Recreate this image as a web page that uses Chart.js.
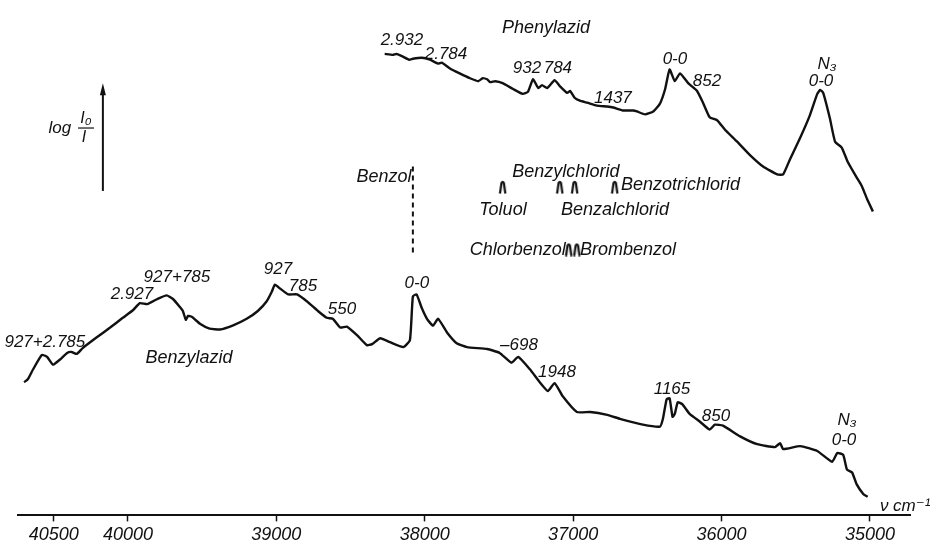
<!DOCTYPE html>
<html>
<head>
<meta charset="utf-8">
<script src="https://cdn.jsdelivr.net/npm/chart.js@4.4.1/dist/chart.umd.min.js"></script>
<style>
  html, body { margin: 0; padding: 0; background: #fff; }
  #wrap { width: 935px; height: 549px; }
</style>
</head>
<body>
<div id="wrap"><canvas id="spektrum" width="935" height="549"></canvas></div>
<script>
// wavenumber ticks (cm-1)
const wnTicks = [40500, 40000, 39000, 38000, 37000, 36000, 35000];

// Phenylazid, upper trace (wavenumber / log I0/I, arbitrary units)
const phenylWn = [
  38270, 38215, 38190, 38145, 38105, 38080, 38020, 37965, 37910, 37885,
  37830, 37765, 37695, 37640, 37610, 37580, 37560, 37525, 37475, 37405,
  37340, 37305, 37270, 37235, 37210, 37175, 37125, 37090, 37040, 37020,
  36990, 36955, 36905, 36840, 36770, 36730, 36665, 36595, 36570, 36515,
  36460, 36415, 36380, 36350, 36315, 36280, 36225, 36165, 36125, 36080,
  36030, 35975, 35895, 35810, 35720, 35625, 35585, 35540, 35470, 35405,
  35355, 35335, 35315, 35270, 35235, 35190, 35150, 35090, 35055, 35020, 34980
];
const phenylAbs = [
  94.6, 94.4, 94.6, 94.0, 93.4, 93.6, 93.8, 93.4, 92.6, 92.8,
  91.6, 90.6, 89.6, 89.0, 89.6, 89.4, 88.8, 89.0, 88.6, 87.4,
  86.4, 86.8, 89.4, 87.6, 88.2, 87.6, 89.2, 88.0, 86.6, 87.0,
  85.6, 85.0, 84.6, 84.0, 83.8, 83.6, 83.0, 83.0, 82.8, 82.2,
  82.8, 84.4, 87.4, 91.4, 89.0, 90.6, 88.6, 87.0, 84.6, 81.6,
  81.0, 79.0, 76.6, 73.9, 71.5, 69.9, 69.9, 72.9, 77.4, 82.0,
  86.4, 87.2, 86.6, 81.4, 76.6, 75.4, 72.5, 69.3, 67.5, 64.9, 62.3
];

// Benzylazid, lower trace
const benzylWn = [
  40700, 40675, 40640, 40580, 40545, 40505, 40460, 40410, 40380, 40345,
  40305, 40210, 40120, 40035, 39965, 39920, 39870, 39805, 39740, 39695,
  39650, 39630, 39610, 39595, 39570, 39515, 39450, 39380, 39295, 39200,
  39125, 39065, 39030, 39010, 38975, 38920, 38860, 38795, 38720, 38660,
  38620, 38570, 38525, 38455, 38390, 38355, 38300, 38235, 38145, 38100,
  38080, 38055, 38020, 37985, 37945, 37910, 37850, 37785, 37715, 37580,
  37495, 37415, 37370, 37290, 37225, 37170, 37125, 37070, 36975, 36885,
  36770, 36685, 36530, 36415, 36395, 36370, 36350, 36330, 36315, 36295,
  36265, 36215, 36145, 36080, 36045, 35990, 35875, 35760, 35640, 35605,
  35585, 35470, 35355, 35255, 35220, 35180, 35155, 35120, 35090, 35045, 35015
];
const benzylAbs = [
  27.3, 27.9, 29.9, 32.9, 32.5, 30.9, 31.9, 33.3, 33.5, 33.1,
  34.3, 36.5, 38.5, 40.5, 42.1, 43.5, 43.3, 44.3, 45.1, 44.3,
  42.7, 41.9, 40.1, 40.9, 40.7, 39.3, 38.3, 38.1, 38.9, 40.3,
  41.9, 43.9, 45.9, 47.3, 46.5, 45.3, 45.3, 43.9, 41.9, 40.5,
  40.3, 38.5, 38.7, 36.9, 34.9, 35.1, 36.3, 35.5, 34.5, 35.9,
  44.9, 45.3, 42.5, 40.3, 38.9, 40.3, 37.5, 35.3, 34.5, 34.1,
  33.3, 31.3, 32.5, 29.9, 27.3, 25.5, 27.1, 24.4, 21.2, 21.2,
  20.6, 19.8, 18.6, 18.2, 19.8, 23.8, 24.0, 20.2, 20.8, 23.2,
  22.8, 20.8, 19.2, 17.6, 18.6, 18.4, 16.2, 14.6, 14.0, 14.8,
  13.6, 14.2, 13.2, 11.0, 12.8, 12.4, 9.4, 8.8, 6.4, 4.4, 3.8
];

// 0-0 bands of reference compounds (marked with a small arch)
const refWn = [37475, 37090, 36990, 36720, 37030, 36975];
const refLevel = [67.3, 67.3, 67.3, 67.3, 54.5, 54.5];
const benzolWn = 38080;
const benzolSpan = [71.5, 53.9];

// labels: text, wavenumber, level, align
const labels = [
  ['Phenylazid', 37183, 100.0, 'center'],
  ['2.932', 38154, 97.4, 'center'],
  ['2.784', 37857, 94.6, 'center'],
  ['932', 37311, 91.6, 'center'],
  ['784', 37103, 91.6, 'center'],
  ['1437', 36732, 85.6, 'center'],
  ['0-0', 36314, 93.4, 'center'],
  ['852', 36098, 89.0, 'center'],
  ['N\u2083', 35290, 92.4, 'center'],
  ['0-0', 35330, 89.0, 'center'],
  ['927+2.785', 40560, 35.5, 'center'],
  ['2.927', 39973, 45.3, 'center'],
  ['927+785', 39670, 48.9, 'center'],
  ['Benzylazid', 39589, 32.3, 'center'],
  ['927', 38989, 50.5, 'center'],
  ['785', 38821, 46.9, 'center'],
  ['550', 38558, 42.3, 'center'],
  ['0-0', 38053, 47.5, 'center'],
  ['\u2013698', 37365, 34.9, 'center'],
  ['1948', 37109, 29.3, 'center'],
  ['1165', 36334, 25.9, 'center'],
  ['850', 36038, 20.4, 'center'],
  ['N\u2083', 35155, 19.4, 'center'],
  ['0-0', 35175, 15.4, 'center'],
  ['Benzol', 38275, 69.3, 'center'],
  ['Benzylchlorid', 37049, 70.3, 'center'],
  ['Toluol', 37473, 62.5, 'center'],
  ['Benzalchlorid', 36718, 62.5, 'center'],
  ['Benzotrichlorid', 36678, 67.7, 'left'],
  ['Chlorbenzol', 37049, 54.5, 'right'],
  ['Brombenzol', 36954, 54.5, 'left'],
  ['log', 40459, 79.4, 'center'],
  ['\u03bd cm\u207b\u00b9', 34933, 1.8, 'left']
];

const FONT = '"Liberation Sans", "DejaVu Sans", sans-serif';

function archMarker() {
  const c = document.createElement('canvas');
  c.width = 9; c.height = 14;
  const g = c.getContext('2d');
  g.strokeStyle = '#111';
  g.lineWidth = 2.2;
  g.beginPath();
  g.moveTo(1.8, 13.5);
  g.lineTo(3.3, 3);
  g.quadraticCurveTo(4.5, 0.5, 5.7, 3);
  g.lineTo(7.2, 13.5);
  g.stroke();
  return c;
}

const toXY = (xs, ys) => xs.map((x, i) => ({ x: x, y: ys[i] }));

const annotate = {
  id: 'annotate',
  afterDatasetsDraw(chart) {
    const ctx = chart.ctx;
    const xs = chart.scales.x, ys = chart.scales.y;
    ctx.save();
    ctx.fillStyle = '#111';
    ctx.textBaseline = 'middle';
    labels.forEach(l => {
      const word = /[a-z]{4}/i.test(l[0]) && l[0] !== 'log';
      ctx.font = 'italic ' + (word ? 18 : 17) + 'px ' + FONT;
      ctx.textAlign = l[3];
      ctx.fillText(l[0], xs.getPixelForValue(l[1]), ys.getPixelForValue(l[2]));
    });

    // log I0/I with arrow
    const ax = xs.getPixelForValue(40169);
    const y0 = ys.getPixelForValue(66.5), y1 = ys.getPixelForValue(88.6);
    ctx.strokeStyle = '#111';
    ctx.lineWidth = 2;
    ctx.beginPath();
    ctx.moveTo(ax, y0);
    ctx.lineTo(ax, y1 + 8);
    ctx.stroke();
    ctx.beginPath();
    ctx.moveTo(ax, y1);
    ctx.lineTo(ax - 3, y1 + 12);
    ctx.lineTo(ax + 3, y1 + 12);
    ctx.closePath();
    ctx.fill();

    const fx = xs.getPixelForValue(40283), fy = ys.getPixelForValue(79.4);
    ctx.font = 'italic 16px ' + FONT;
    ctx.textAlign = 'center';
    ctx.fillText('I\u2080', fx, fy - 9);
    ctx.fillText('I', fx - 2, fy + 10);
    ctx.lineWidth = 1.2;
    ctx.beginPath();
    ctx.moveTo(fx - 8, fy);
    ctx.lineTo(fx + 8, fy);
    ctx.stroke();
    ctx.restore();
  }
};

new Chart(document.getElementById('spektrum'), {
  type: 'line',
  data: {
    datasets: [{
      label: 'Phenylazid',
      data: toXY(phenylWn, phenylAbs),
      borderColor: '#111',
      borderWidth: 2.4,
      pointRadius: 0,
      tension: 0.15
    }, {
      label: 'Benzylazid',
      data: toXY(benzylWn, benzylAbs),
      borderColor: '#111',
      borderWidth: 2.4,
      pointRadius: 0,
      tension: 0.15
    }, {
      label: 'Benzol',
      data: toXY([benzolWn, benzolWn], benzolSpan),
      borderColor: '#111',
      borderWidth: 2,
      borderDash: [5, 4],
      pointRadius: 0
    }, {
      label: 'Vergleich',
      data: toXY(refWn, refLevel),
      showLine: false,
      pointStyle: archMarker(),
      pointRadius: 7
    }]
  },
  options: {
    responsive: false,
    animation: false,
    layout: { padding: { left: 18, right: 25, top: 0, bottom: 0 } },
    plugins: { legend: { display: false }, tooltip: { enabled: false } },
    scales: {
      x: {
        type: 'linear',
        reverse: true,
        min: 34730,
        max: 40741,
        afterBuildTicks: s => { s.ticks = wnTicks.map(v => ({ value: v })); },
        border: { display: true, color: '#111', width: 2 },
        grid: { drawOnChartArea: false, drawTicks: true, tickLength: 6, tickColor: '#111', tickWidth: 1.5 },
        ticks: {
          color: '#111',
          maxRotation: 0,
          autoSkip: false,
          padding: 3,
          font: { family: FONT, size: 18, style: 'italic' },
          callback: v => String(v)
        }
      },
      y: {
        display: false,
        min: 0,
        max: 104
      }
    }
  },
  plugins: [annotate]
});
</script>
</body>
</html>
